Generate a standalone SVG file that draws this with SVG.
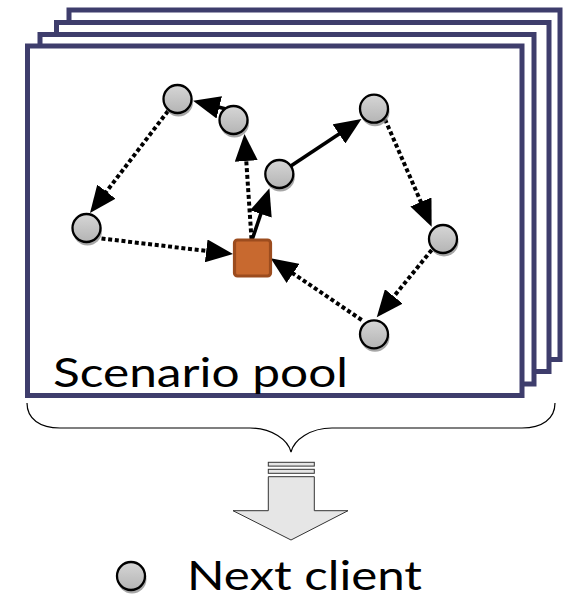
<svg xmlns="http://www.w3.org/2000/svg" width="565" height="599" viewBox="0 0 565 599">
<style>
.frame{fill:#fff;stroke:#3e3d6c;stroke-width:5;stroke-linejoin:miter}
.shadow{fill:#8a8a8a;opacity:0.75}
.node{fill:url(#ng);stroke:#000;stroke-width:2.3}
.dot{fill:none;stroke:#000;stroke-width:4;stroke-dasharray:4 2.7}
.solid{fill:none;stroke:#000;stroke-width:3.6}
.label{font-family:Lato,"Open Sans","DejaVu Sans",sans-serif;font-size:41px;fill:#000}
.brace{fill:none;stroke:#000;stroke-width:1.2}
.big-arrow{fill:#e6e6e6;stroke:#333;stroke-width:1}
</style>
<defs>
<linearGradient id="ng" x1="0" y1="0" x2="0" y2="1">
<stop offset="0" stop-color="#d6d6d6"/>
<stop offset="1" stop-color="#b4b4b4"/>
</linearGradient>
<marker id="ah" markerUnits="userSpaceOnUse" markerWidth="28" markerHeight="23" viewBox="0 0 28 23" refX="1" refY="11.5" orient="auto">
<path d="M0,0 L27,11.5 L0,23 z" fill="#000"/>
</marker>
</defs>

<g id="pool-frames">
<rect class="frame" x="69" y="10" width="491" height="349.5"/>
<rect class="frame" x="56.5" y="22.5" width="492.5" height="349"/>
<rect class="frame" x="40" y="34.5" width="494" height="349.5"/>
<rect class="frame" x="27.5" y="46" width="494.5" height="349.5"/>
</g>

<g id="connectors">
<path class="dot" d="M168,111 L105.8,192.4" marker-end="url(#ah)"/>
<path class="dot" d="M101.5,238.5 L207.2,251" marker-end="url(#ah)"/>
<path class="dot" d="M251.5,239 L246.2,160" marker-end="url(#ah)"/>
<path class="solid" d="M228,109.5 L218.3,107.1" marker-end="url(#ah)"/>
<path class="solid" d="M252,240 L261.1,213" marker-end="url(#ah)"/>
<path class="solid" d="M290.8,166 L339.8,133.4" marker-end="url(#ah)"/>
<path class="dot" d="M385,119.3 L421.3,202.9" marker-end="url(#ah)"/>
<path class="dot" d="M431.7,250 L393.2,297.2" marker-end="url(#ah)"/>
<path class="dot" d="M361.7,320 L292.2,272.9" marker-end="url(#ah)"/>
</g>

<g id="node-a"><circle class="shadow" cx="178.5" cy="102" r="14.5"/><circle class="node" cx="177.5" cy="99" r="14"/></g>
<g id="node-b"><circle class="shadow" cx="234.5" cy="123" r="14.5"/><circle class="node" cx="233.5" cy="120" r="14"/></g>
<g id="node-c"><circle class="shadow" cx="87.5" cy="231" r="14.5"/><circle class="node" cx="86.5" cy="228" r="14"/></g>
<g id="node-d"><circle class="shadow" cx="280.3" cy="177" r="14.5"/><circle class="node" cx="279.3" cy="174" r="14"/></g>
<g id="node-e"><circle class="shadow" cx="375" cy="111.7" r="14.5"/><circle class="node" cx="374" cy="108.7" r="14"/></g>
<g id="node-f"><circle class="shadow" cx="444" cy="242" r="14.5"/><circle class="node" cx="443" cy="239" r="14"/></g>
<g id="node-g"><circle class="shadow" cx="375" cy="337.3" r="14.5"/><circle class="node" cx="374" cy="334.3" r="14"/></g>
<g id="node-square"><rect x="234.5" y="240" width="36" height="36" rx="3" fill="#c8692f" stroke="#9c4c1e" stroke-width="3.2"/></g>

<g id="pool-label"><text class="label" x="53" y="387" textLength="295" lengthAdjust="spacingAndGlyphs">Scenario pool</text></g>

<g id="brace"><path class="brace" d="M27,403 C27,419 40,428 60,428 L250,428 C272,428 288,440 291,452 C294,440 310,428 332,428 L522,428 C542,428 555,419 555,403"/></g>

<g id="down-arrow">
<rect class="big-arrow" x="268.3" y="462.3" width="46" height="3.8"/>
<rect class="big-arrow" x="268.3" y="469.3" width="46" height="4"/>
<path class="big-arrow" d="M268.3,476.7 L314.3,476.7 L314.3,510.7 L348,510.7 L291,540 L233,510.7 L268.3,510.7 z"/>
</g>

<g id="legend">
<g id="legend-node"><circle class="shadow" cx="132" cy="579" r="14.5"/><circle class="node" cx="131" cy="576" r="14"/></g>
<text class="label" x="187" y="590" textLength="235" lengthAdjust="spacingAndGlyphs">Next client</text>
</g>
</svg>
